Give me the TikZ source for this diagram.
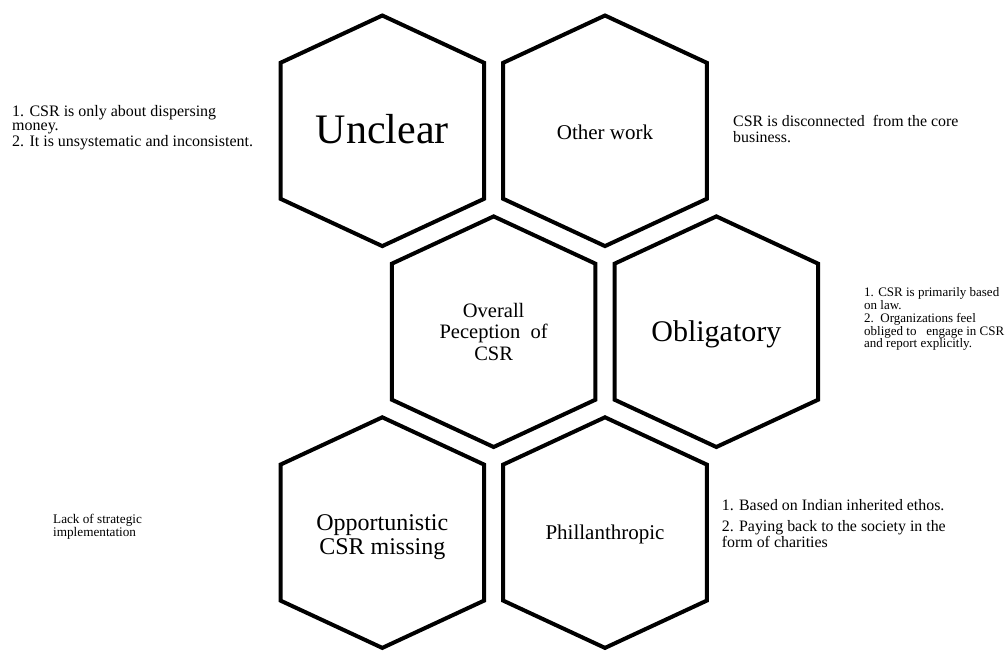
\documentclass[tikz,border=0pt]{standalone}
\usepackage{fontspec}
\setmainfont{Liberation Serif}
\begin{document}
\begin{tikzpicture}[x=1pt,y=-1pt,
  hexline/.style={draw=black,line width=4pt,line join=miter},
  hexcell/.pic={\path[hexline] (0,-115.3) -- (101.8,-68) -- (101.8,68) -- (0,115.3) -- (-101.8,68) -- (-101.8,-68) -- cycle;},
  note/.style={inner sep=0pt,anchor=north west,align=left},
  hexlabel/.style={inner sep=0pt,align=center}]
\useasboundingbox[fill=white] (0,0) rectangle (1005,653);

% hexagon centres
\coordinate (hUnclear) at (382.3,130.8);
\coordinate (hOther)   at (605.0,130.8);
\coordinate (hOverall) at (493.65,331.7);
\coordinate (hOblig)   at (716.35,331.7);
\coordinate (hOpport)  at (382.3,532.6);
\coordinate (hPhil)    at (605.0,532.6);

\foreach \c in {hUnclear,hOther,hOverall,hOblig,hOpport,hPhil}
  \pic at (\c) {hexcell};

% labels inside the hexagons
\node[hexlabel,anchor=base,font=\fontsize{42}{48}\selectfont] (tUnclear) at (382.3,143.3) {Unclear};
\node[hexlabel,anchor=base,font=\fontsize{21}{24}\selectfont] (tOther) at (605.0,139.3) {Other work};
\node[hexlabel,anchor=north,font=\fontsize{20.5}{21.7}\selectfont] (tOverall) at (493.65,302.7) {Overall\\Peception\ \ of\\CSR};
\node[hexlabel,anchor=base,font=\fontsize{30}{34}\selectfont] (tOblig) at (716.35,341.7) {Obligatory};
\node[hexlabel,anchor=north,font=\fontsize{24}{24}\selectfont] (tOpport) at (382.3,514.5) {Opportunistic\\CSR missing};
\node[hexlabel,anchor=base,font=\fontsize{21}{24}\selectfont] (tPhil) at (605.0,539.3) {Phillanthropic};

% descriptions beside the hexagons
\node[note,font=\fontsize{16}{14.6}\selectfont] (nUnclear) at (12,104.8)
  {1. CSR is only about dispersing\\money.\\[1.6pt]2. It is unsystematic and inconsistent.};
\node[note,font=\fontsize{15.9}{15.7}\selectfont] (nOther) at (733,115.2)
  {CSR is disconnected\ \ from the core\\business.};
\node[note,font=\fontsize{13}{11.2}\selectfont] (nOblig) at (864,287.5)
  {1. CSR is primarily based\\on law.\\[1.5pt]2.\ \ Organizations feel\\obliged to\ \ \ engage in CSR\\and report explicitly.};
\node[note,font=\fontsize{15.9}{13}\selectfont] (nPhil) at (721.7,499.2)
  {1. Based on Indian inherited ethos.\\[8pt]2. Paying back to the society in the\\form of charities};
\node[note,font=\fontsize{13.2}{11.6}\selectfont] (nOpport) at (53,514)
  {Lack of strategic\\implementation};
\end{tikzpicture}
\end{document}
